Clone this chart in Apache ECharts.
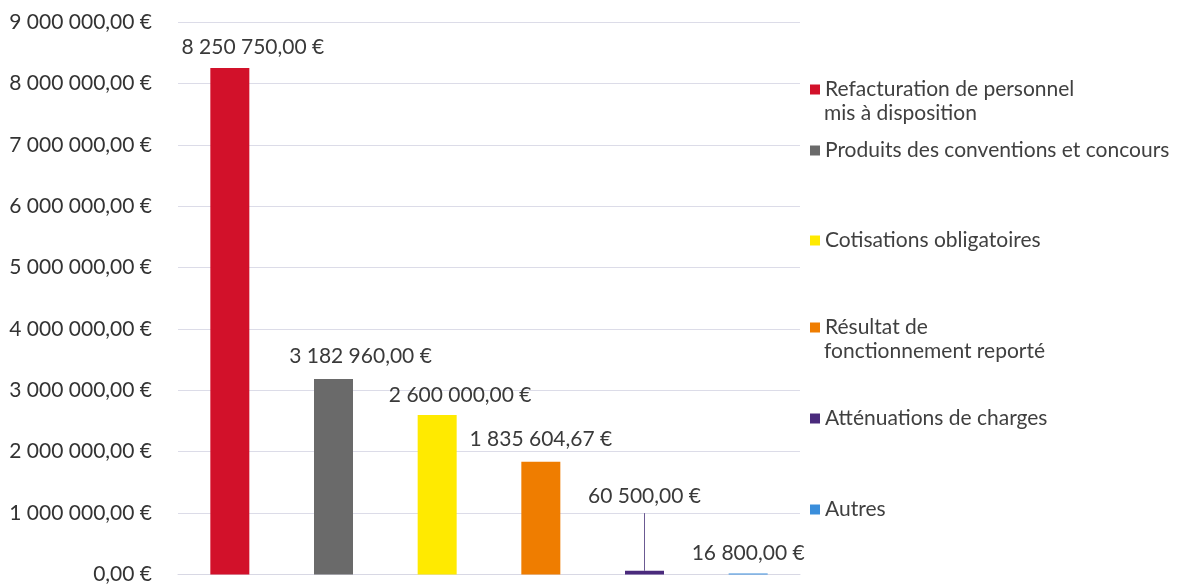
<!DOCTYPE html>
<html>
<head>
<meta charset="utf-8">
<script src="https://cdn.jsdelivr.net/npm/echarts@6/dist/echarts.min.js"></script>
<style>
  html, body { margin: 0; padding: 0; background: #fff; }
  #chart { width: 1180px; height: 585px; }
</style>
</head>
<body>
<div id="chart"></div>
<script>
// data
const categories = [
  "Refacturation de personnel mis à disposition",
  "Produits des conventions et concours",
  "Cotisations obligatoires",
  "Résultat de fonctionnement reporté",
  "Atténuations de charges",
  "Autres"
];
const legendLabels = [
  "Refacturation de personnel",
  "Produits des conventions et concours",
  "Cotisations obligatoires",
  "Résultat de",
  "Atténuations de charges",
  "Autres"
];
const legendSecondLines = ["mis à disposition", "", "", "fonctionnement reporté", "", ""];
const values = [8250750, 3182960, 2600000, 1835604.67, 60500, 16800];

// styling
const colors = ["#d2112a", "#6a6a6a", "#ffea00", "#ef7d00", "#4a2a7c", "#3a8edb"];
const labelShiftX = [23, 27, 23, 0, 0, 0];
const labelShiftY = [2, 0, 3, 0, -52, 2];
const legendTops = [74, 135, 225, 312, 403, 494];
const FONT = "Lato";
const FS = 21;

function euro(v) {
  const parts = v.toFixed(2).split(".");
  const intPart = parts[0].replace(/\B(?=(\d{3})+(?!\d))/g, " ");
  return intPart + "," + parts[1] + " €";
}

const series = categories.map(function (name, i) {
  const data = categories.map(function (_, j) { return j === i ? values[i] : "-"; });
  const s = {
    name: name,
    type: "bar",
    barWidth: 39,
    barGap: "-100%",
    data: data,
    itemStyle: { color: colors[i] },
    label: {
      show: true,
      position: "top",
      distance: 12,
      offset: [labelShiftX[i], labelShiftY[i]],
      fontFamily: FONT,
      fontSize: FS,
      color: "#3a3a3a",
      formatter: function (p) { return euro(p.value); }
    }
  };
  if (i === 4) {
    s.markLine = {
      silent: true,
      symbol: "none",
      label: { show: false },
      lineStyle: { color: "#6b5a92", width: 1, type: "solid" },
      data: [[{ coord: [i, values[i]] }, { coord: [i, 1000000] }]]
    };
  }
  return s;
});

const legends = categories.map(function (name, i) {
  return {
    data: [name],
    left: 805,
    top: legendTops[i],
    orient: "vertical",
    itemWidth: 10,
    itemHeight: 10,
    icon: "rect",
    selectedMode: false,
    formatter: function () { return legendLabels[i]; },
    textStyle: { fontFamily: FONT, fontSize: FS, color: "#404040" }
  };
});

const secondLines = [];
legendSecondLines.forEach(function (t, i) {
  if (!t) return;
  secondLines.push({
    type: "text",
    left: 824,
    top: legendTops[i] + 29,
    style: { text: t, font: FS + "px " + FONT, fill: "#404040" }
  });
});

const chart = echarts.init(document.getElementById("chart"));
chart.setOption({
  animation: false,
  backgroundColor: "#ffffff",
  grid: { left: 178, right: 380, top: 22, bottom: 9 },
  legend: legends,
  graphic: secondLines,
  xAxis: {
    type: "category",
    data: categories,
    axisLine: { show: true, lineStyle: { color: "#d8d8e4" } },
    axisTick: { show: false },
    axisLabel: { show: false }
  },
  yAxis: {
    type: "value",
    min: 0,
    max: 9000000,
    interval: 1000000,
    axisLine: { show: false },
    axisTick: { show: false },
    splitLine: { lineStyle: { color: "#dcdce8" } },
    axisLabel: {
      margin: 26,
      fontFamily: FONT,
      fontSize: FS,
      color: "#333",
      formatter: function (v) { return euro(v); }
    }
  },
  series: series
});
</script>
</body>
</html>
